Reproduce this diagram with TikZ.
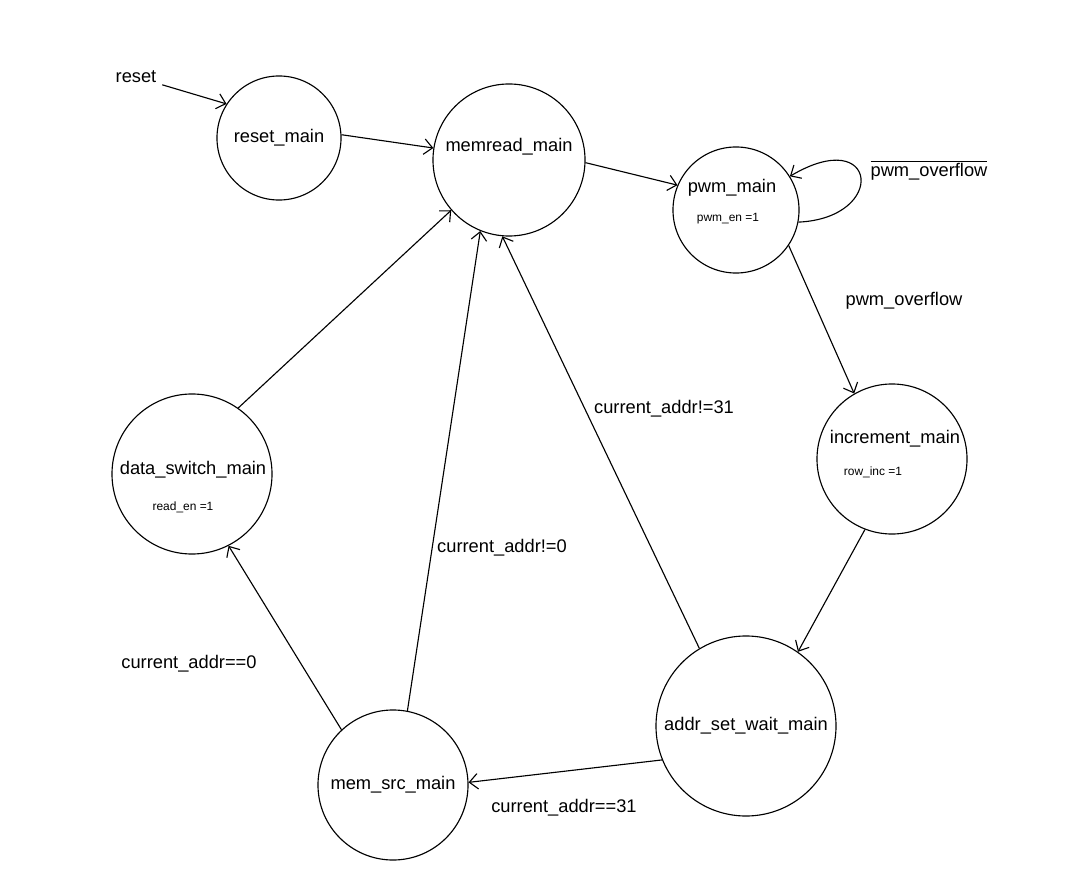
\documentclass[tikz,border=0pt]{standalone}
\usepackage{fontspec}
\setmainfont{Liberation Sans}
\usetikzlibrary{arrows.meta}
\begin{document}
\begin{tikzpicture}[x=0.025cm, y=-0.025cm]
    \tikzstyle{every node}=[inner sep=1pt, font=\fontsize{13}{15}\selectfont, text=black]
    \tikzstyle{state}=[circle, draw=black, line width=0.8pt, inner sep=0pt]
    \tikzstyle{small}=[font=\fontsize{8.5}{10}\selectfont]
    \tikzstyle{edge}=[black, line width=0.8pt, -{Straight Barb[length=6pt, width=11pt]}]

    \useasboundingbox (0,0) rectangle (1079,892);

    % states
    \node[state, minimum size=3.1cm] (resetm) at (279,138) {reset\_main};
    \node[state, minimum size=3.8cm] (memread) at (509,160) {};
    \node[state, minimum size=3.15cm] (pwm) at (736,210) {};
    \node[state, minimum size=3.75cm] (incr) at (892,459) {};
    \node[state, minimum size=4.0cm] (dswitch) at (192,474) {};
    \node[state, minimum size=4.5cm] (addr) at (746,726) {addr\_set\_wait\_main};
    \node[state, minimum size=3.75cm] (memsrc) at (393,785) {mem\_src\_main};

    \node (memread-t) at (509,147) {memread\_main};
    \node (pwm-t) at (732,188) {pwm\_main};
    \node[small] (pwm-o) at (728,219) {pwm\_en =1};
    \node (incr-t) at (895,439) {increment\_main};
    \node[small] (incr-o) at (873,472) {row\_inc =1};
    \node (dswitch-t) at (193,470) {data\_switch\_main};
    \node[small] (dswitch-o) at (183,507) {read\_en =1};

    % inputs and conditions
    \node[inner sep=4pt] (reset) at (136,77) {reset};
    \node (c-ovf) at (904,301) {pwm\_overflow};
    \node (c-novf) at (929,170) {$\overline{\mbox{pwm\_overflow}}$};
    \node (c-ne31) at (664,409) {current\_addr!=31};
    \node (c-ne0) at (502,548) {current\_addr!=0};
    \node (c-eq0) at (189,664) {current\_addr==0};
    \node (c-eq31) at (564,808) {current\_addr==31};

    % transitions
    \draw[edge] (reset) -- (resetm.147);
    \draw[edge] (resetm.3) -- (memread.171);
    \draw[edge] (memread.-2) -- (pwm.157);
    \draw[edge] (pwm.-11) .. controls (888,218) and (878,124) .. (pwm.32);
    \draw[edge] (pwm.-34) -- (incr.120);
    \draw[edge] (incr.249) -- (addr.55);
    \draw[edge] (addr.202) -- (memsrc.2);
    \draw[edge] (memsrc.133) -- (dswitch.297);
    \draw[edge] (memsrc.79) -- (memread.248);
    \draw[edge] (addr.121) -- (memread.265);
    \draw[edge] (dswitch.55) -- (memread.221);
\end{tikzpicture}
\end{document}
